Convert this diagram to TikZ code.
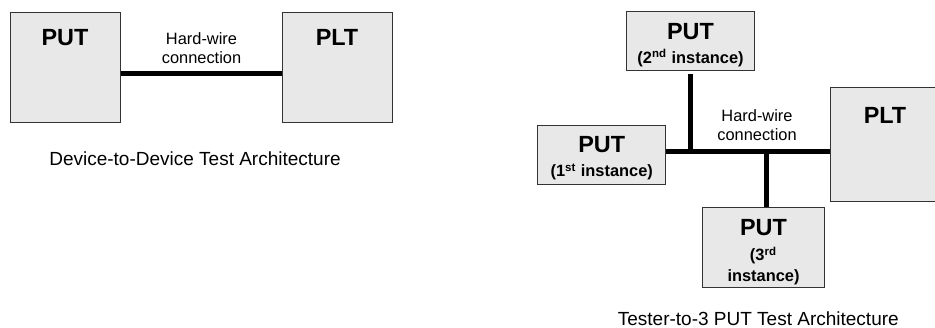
\documentclass[tikz,border=0pt]{standalone}
\usepackage{fontspec}
\setmainfont{Liberation Sans}
\usetikzlibrary{positioning}
\newcommand{\putfont}{\fontsize{11.7pt}{14pt}\selectfont\bfseries}
\newcommand{\puthead}[1]{{\putfont\rule{0pt}{#1}PUT}}
\tikzset
{
	bigbox/.style = {rectangle, draw=black!80, fill=black!9, line width=0.5pt, inner sep=0pt, minimum width=55pt, minimum height=55pt},
	smallbox/.style = {rectangle, draw=black!80, fill=black!9, line width=0.5pt, inner sep=0pt, align=center, font=\fontsize{8.2pt}{10.5pt}\selectfont\bfseries},
	boxtext/.style = {anchor=north, inner sep=0pt, yshift=-8.8pt, font=\putfont},
	wire/.style = {line width=2.5pt, black},
	wiretext/.style = {align=center, inner sep=0pt, font=\fontsize{8.2pt}{9.7pt}\selectfont},
	caption/.style = {inner sep=0pt, font=\fontsize{9.5pt}{11pt}\selectfont}
}
\begin{document}
\begin{tikzpicture}[x=0.5pt, y=-0.5pt]
\useasboundingbox (0,0) rectangle (935,327);
% device to device
\node[bigbox, label={[boxtext]north:PUT}] (putA) at (65,67) {};
\node[bigbox, label={[boxtext]north:PLT}, right=80.5pt of putA] (pltA) {};
\draw[wire] ([yshift=-3pt]putA.east) -- ([yshift=-3pt]pltA.west);
\node[wiretext] (hwA) at (201.5,48) {Hard-wire\\connection};
\node[caption] (capA) at (195,158.7) {Device-to-Device Test Architecture};
% tester to 3 put
\node[smallbox, minimum width=63.8pt, minimum height=29.5pt] (putB) at (690.5,41.2) {\puthead{11.6pt}\\[1.5pt](2\textsuperscript{nd} instance)};
\node[smallbox, minimum width=64pt, minimum height=29.3pt] (putC) at (601.7,155) {\puthead{11.6pt}\\[1.5pt](1\textsuperscript{st} instance)};
\node[smallbox, minimum width=60.8pt, minimum height=39.8pt] (putD) at (763.5,247.5) {\puthead{13pt}\\[2pt](3\textsuperscript{rd}\\instance)};
\node[bigbox, minimum height=57pt, label={[boxtext, yshift=-1pt]north:PLT}] (pltB) at (885,144.7) {};
\coordinate (jL) at ([yshift=1.6pt]putC.east);
\draw[wire] (jL) -- (jL -| pltB.west);
\draw[wire] ([yshift=-1.5pt]putB.south) -- (putB.south |- jL);
\draw[wire] ([xshift=1.6pt]putD.north) -- ([xshift=1.6pt]putD.north |- jL);
\node[wiretext] (hwB) at (757,125) {Hard-wire\\connection};
\node[caption] (capB) at (758.3,318.3) {Tester-to-3 PUT Test Architecture};
\end{tikzpicture}
\end{document}
